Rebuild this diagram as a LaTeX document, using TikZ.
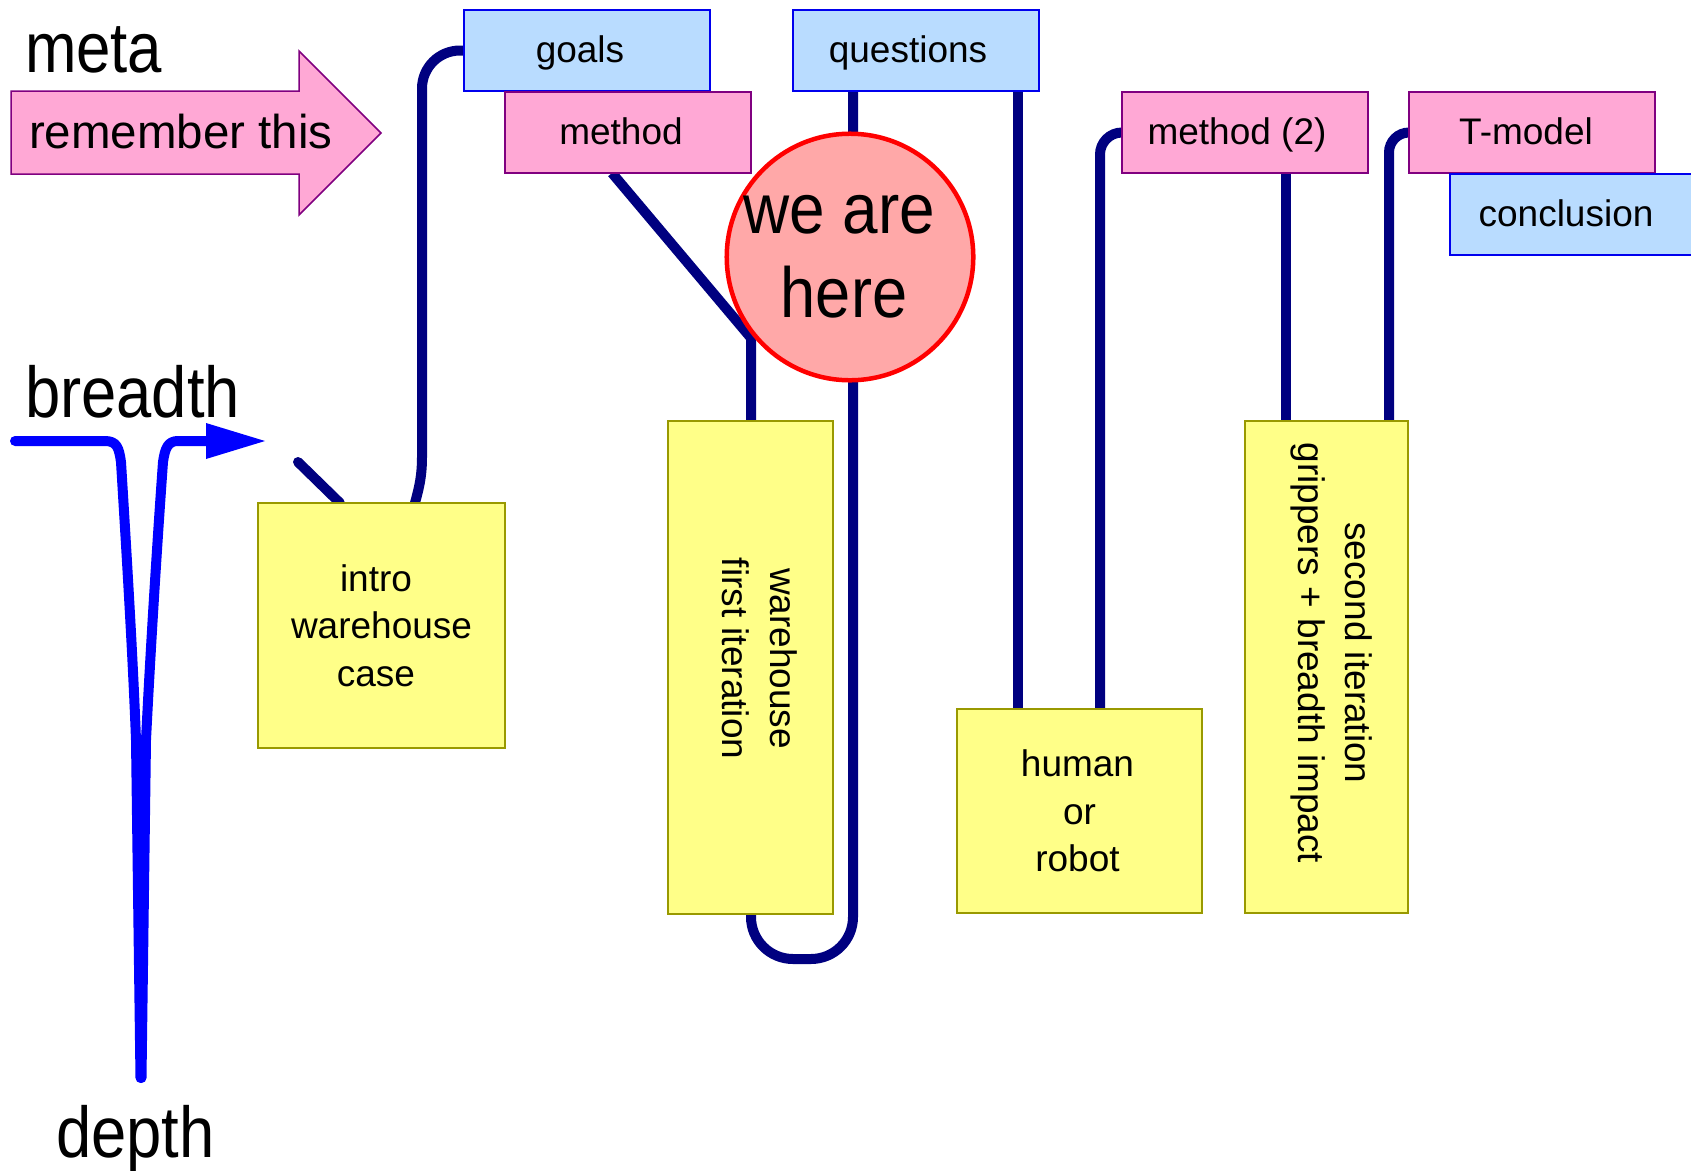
\documentclass[tikz,border=0pt]{standalone}
\usepackage{fontspec}
\setmainfont{Liberation Sans}
\usepackage{graphicx}
\usetikzlibrary{calc}
\pgfdeclarelayer{back}
\pgfdeclarelayer{bg}
\pgfsetlayers{back,bg,main}
\definecolor{navy}{HTML}{000080}
\definecolor{pureblue}{HTML}{0000FF}
\definecolor{bluefill}{HTML}{B9DCFF}
\definecolor{blueedge}{HTML}{0000EE}
\definecolor{pinkfill}{HTML}{FFA8D5}
\definecolor{pinkedge}{HTML}{800080}
\definecolor{yelfill}{HTML}{FFFF88}
\definecolor{yeledge}{HTML}{999900}
\definecolor{herefill}{HTML}{FFA8A8}
\definecolor{hereedge}{HTML}{FF0000}
\newcommand{\nar}[2]{\scalebox{#1}[1]{#2}}
\begin{document}
\begin{tikzpicture}[x=1pt,y=-1pt,
  every node/.style={inner sep=0pt, outer sep=0pt},
  boxfont/.style={font=\fontsize{37pt}{47.5pt}\selectfont},
  topbox/.style={boxfont, anchor=north west, line width=1.5pt, minimum width=246pt, minimum height=81pt, text height=29pt, text depth=5pt},
  bluebox/.style={topbox, draw=blueedge, fill=bluefill},
  pinkbox/.style={topbox, draw=pinkedge, fill=pinkfill},
  yelbox/.style={boxfont, anchor=north west, draw=yeledge, fill=yelfill, line width=1.5pt, align=center},
  link/.style={navy, line width=10pt, line cap=round},
  trail/.style={pureblue, line width=10pt, line cap=round, line join=round},
  bigtext/.style={anchor=base west, font=\fontsize{72pt}{86pt}\selectfont},
]
\useasboundingbox (0,0) rectangle (1691,1170);
\begin{pgfonlayer}{back}
\fill[white] (0,0) rectangle (1691,1170);
\end{pgfonlayer}

% left labels
\node[bigtext] (meta) at (25,72) {\nar{0.87}{\fontsize{71pt}{85pt}\selectfont meta}};
\node[bigtext] (breadth) at (25,417) {\nar{0.88}{breadth}};
\node[bigtext] (depth) at (56,1157) {\nar{0.88}{depth}};

% remember arrow
\filldraw[fill=pinkfill, draw=pinkedge, line width=1.5pt, line join=miter]
  (11,91) -- (299,91) -- (299,51) -- (381,133) -- (299,215) -- (299,174) -- (11,174) -- cycle;
\node[anchor=base west, font=\fontsize{47.5pt}{57pt}\selectfont] (remember) at (29,148) {remember this};

% breadth / depth trail
\draw[trail] (15,441) -- (105,441) .. controls (117,441) and (119,448) .. (121,462)
  .. controls (127,560) and (133,660) .. (136,740) -- (140.5,1078);
\draw[trail] (141.5,1078) -- (146,740) .. controls (150,660) and (156,560) .. (163,462)
  .. controls (165,448) and (168,441) .. (178,441) -- (212,441);
\fill[pureblue] (206,423) -- (265,441) -- (206,459) -- cycle;

% top boxes
\node[bluebox] (goals) at (464,10) {goals\hspace*{14pt}};
\node[bluebox] (questions) at (793,10) {questions\hspace*{16pt}};
\node[pinkbox] (method) at (505,92) {method\hspace*{14pt}};
\node[pinkbox] (method2) at (1122,92) {method (2)\hspace*{16pt}};
\node[pinkbox] (tmodel) at (1409,92) {T-model\hspace*{12pt}};
\node[bluebox] (conclusion) at (1450,174) {conclusion\hspace*{14pt}};

% yellow boxes
\node[yelbox, minimum width=247pt, minimum height=245pt] (intro) at (258,503) {intro\hspace*{11pt}\\warehouse\hspace*{24pt}\\case\hspace*{11pt}};
\node[yelbox, minimum width=165pt, minimum height=493pt] (wh) at (668,421) {};
\node[boxfont, rotate=-90, align=center] (whtext) at ($(wh.center)+(9,-9)$) {warehouse\\first iteration};
\node[yelbox, minimum width=245pt, minimum height=204pt] (human) at (957,709) {human\hspace*{4pt}\\or\\robot\hspace*{4pt}};
\node[yelbox, minimum width=163pt, minimum height=492pt] (second) at (1245,421) {};
\node[boxfont, rotate=-90, align=center] (secondtext) at ($(second.center)+(5,-14)$) {second iteration\\grippers + breadth impact};

% we are here
\node[circle, draw=hereedge, fill=herefill, line width=4.5pt, minimum size=246pt, align=center,
  font=\fontsize{71pt}{84pt}\selectfont] (here) at (850,257) {\nar{0.9}{we are}\hspace*{22pt}\\\nar{0.89}{here}\hspace*{12pt}};

% connectors
\begin{pgfonlayer}{bg}
\draw[link] ($(intro.north west)+(82,0)$) -- ($(intro.north west)+(40,-41)$);
\draw[link, rounded corners=38pt] (goals.west) -| ($(intro.north west)+(164,-46)$);
\draw[link] ($(intro.north west)+(164,-46)$) .. controls ($(intro.north west)+(164,-24)$) and ($(intro.north west)+(160,-12)$) .. ($(intro.north west)+(157,0)$);
\draw[link, line cap=butt] ($(method.south west)+(107,0)$) -- ($(wh.north west)+(83,-83)$) -- ($(wh.north west)+(83,0)$);
\draw[link, rounded corners=42pt] ($(wh.south west)+(83,0)$) -- ($(wh.south west)+(83,45)$) -| ($(questions.south west)+(60,0)$);
\draw[link] ($(questions.south west)+(225,0)$) -- ($(human.north west)+(61,0)$);
\draw[link, rounded corners=22pt] ($(human.north west)+(143,0)$) |- (method2.west);
\draw[link] ($(method2.south west)+(164,0)$) -- ($(second.north west)+(41,0)$);
\draw[link, rounded corners=20pt] ($(second.north west)+(144,0)$) |- (tmodel.west);
\end{pgfonlayer}
\end{tikzpicture}
\end{document}
